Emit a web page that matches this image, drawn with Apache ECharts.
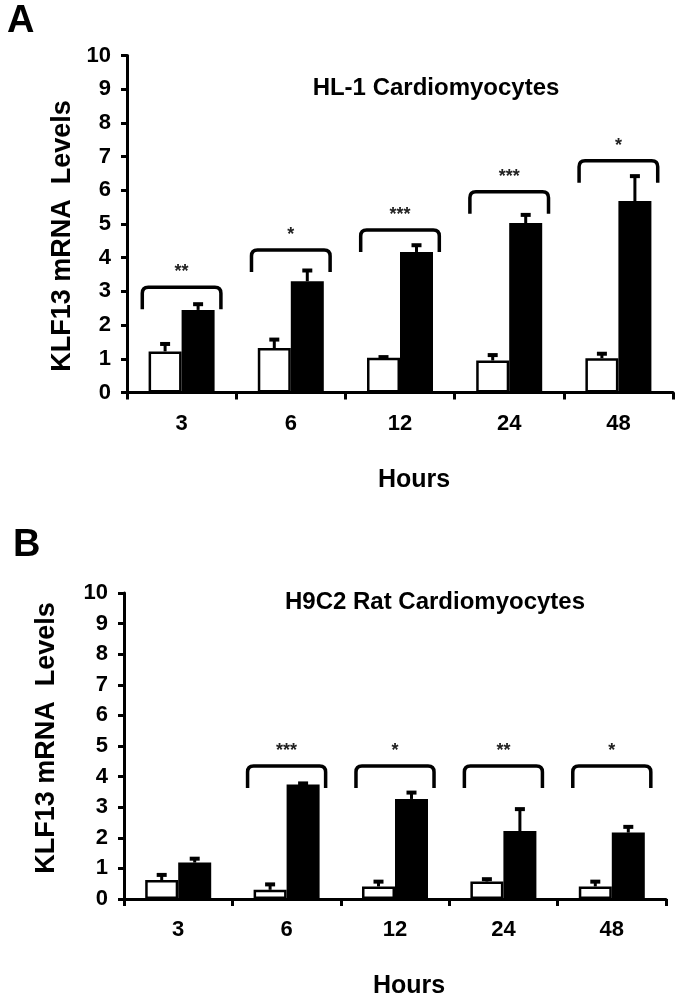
<!DOCTYPE html>
<html><head><meta charset="utf-8">
<script src="https://cdn.jsdelivr.net/npm/echarts@6/dist/echarts.min.js"></script>
<style>html,body{margin:0;padding:0;background:#fff}#c{width:680px;height:1000px}</style>
</head><body><div id="c"></div>
<script>
const hours = ['3', '6', '12', '24', '48'];
const yMin = 0, yMax = 10, yStep = 1;

const hl1Control = [1.22, 1.32, 1.03, 0.95, 1.02];
const hl1ControlErr = [0.25, 0.28, 0.05, 0.19, 0.16];
const hl1Treated = [2.45, 3.30, 4.17, 5.03, 5.68];
const hl1TreatedErr = [0.20, 0.35, 0.23, 0.27, 0.77];
const hl1Bracket = [3.12, 4.23, 4.82, 5.96, 6.88];
const hl1Stars = ['**', '*', '***', '***', '*'];

const h9c2Control = [0.62, 0.30, 0.41, 0.57, 0.41];
const h9c2ControlErr = [0.20, 0.21, 0.19, 0.11, 0.19];
const h9c2Treated = [1.19, 3.74, 3.27, 2.22, 2.17];
const h9c2TreatedErr = [0.16, 0.07, 0.24, 0.75, 0.22];
const h9c2Bracket = [null, 4.35, 4.35, 4.35, 4.35];
const h9c2Stars = ['', '***', '*', '**', '*'];

const FONT = "'Liberation Sans', Arial, sans-serif";
const BAR_W = 33;

function errSeries(grid, means, errs, side) {
  return {
    type: 'custom', xAxisIndex: grid, yAxisIndex: grid, z: 5,
    data: means.map((m, i) => [i, m, m + errs[i]]),
    renderItem: function (params, api) {
      const p0 = api.coord([api.value(0), api.value(1)]);
      const p1 = api.coord([api.value(0), api.value(2)]);
      const x = p0[0] + side * BAR_W / 2;
      return {
        type: 'group', children: [
          { type: 'line', shape: { x1: x, y1: p0[1], x2: x, y2: p1[1] }, style: { stroke: '#000', lineWidth: 3 } },
          { type: 'line', shape: { x1: x - 5, y1: p1[1] + 1, x2: x + 5, y2: p1[1] + 1 }, style: { stroke: '#000', lineWidth: 4 } }
        ]
      };
    }
  };
}

function bracketSeries(grid, tops, stars) {
  return {
    type: 'custom', xAxisIndex: grid, yAxisIndex: grid, z: 6,
    data: tops.map((t, i) => [i, t == null ? '-' : t]),
    renderItem: function (params, api) {
      const v = api.value(1);
      if (isNaN(v)) return null;
      const c = api.coord([api.value(0), v]);
      const bw = api.size([1, 0])[0];
      const half = bw * 0.36;
      const x1 = c[0] - half, x2 = c[0] + half, yt = c[1], yb = yt + 22, r = 6;
      const d = `M${x1},${yb} L${x1},${yt + r} Q${x1},${yt} ${x1 + r},${yt} L${x2 - r},${yt} Q${x2},${yt} ${x2},${yt + r} L${x2},${yb}`;
      return {
        type: 'group', children: [
          { type: 'path', shape: { pathData: d }, style: { stroke: '#000', lineWidth: 3.5, fill: null } },
          { type: 'text', style: { text: stars[params.dataIndex], x: c[0], y: yt - 6, align: 'center', verticalAlign: 'bottom', fill: '#222', font: 'bold 18px ' + FONT } }
        ]
      };
    }
  };
}

function xAx(grid) {
  return {
    type: 'category', gridIndex: grid, data: hours,
    axisLine: { lineStyle: { color: '#000', width: 3 } },
    axisTick: { show: true, length: 7, lineStyle: { color: '#000', width: 3 } },
    axisLabel: { color: '#000', fontSize: 22, fontWeight: 'bold', fontFamily: FONT, margin: 20 },
    name: 'Hours', nameLocation: 'middle', nameGap: 75,
    nameTextStyle: { color: '#000', fontSize: 25, fontWeight: 'bold', fontFamily: FONT, padding: [0, 0, 0, 28] }
  };
}
function yAx(grid, gap, shiftDown) {
  return {
    type: 'value', gridIndex: grid, min: yMin, max: yMax, interval: yStep,
    axisLine: { show: true, lineStyle: { color: '#000', width: 3 } },
    axisTick: { show: true, length: 6, lineStyle: { color: '#000', width: 3 } },
    splitLine: { show: false },
    axisLabel: { color: '#000', fontSize: 22, fontWeight: 'bold', fontFamily: FONT, margin: 16 },
    name: 'KLF13 mRNA  Levels', nameLocation: 'middle', nameGap: gap, nameRotate: 90,
    nameTextStyle: {
      color: '#000', fontSize: 27, fontWeight: 'bold', fontFamily: FONT,
      padding: shiftDown >= 0 ? [0, shiftDown * 2, 0, 0] : [0, 0, 0, -shiftDown * 2]
    }
  };
}
function bars(grid, vals, white) {
  return {
    type: 'bar', xAxisIndex: grid, yAxisIndex: grid, data: vals, barWidth: BAR_W, barGap: '0%',
    itemStyle: white ? { color: '#fff', borderColor: '#000', borderWidth: 2.5 } : { color: '#000' },
    z: 3
  };
}

const chart = echarts.init(document.getElementById('c'), null, { renderer: 'canvas' });
chart.setOption({
  backgroundColor: '#fff',
  animation: false,
  title: [
    { text: 'A', left: 2, top: -2, textStyle: { fontSize: 38, fontWeight: 'bold', color: '#000', fontFamily: FONT } },
    { text: 'B', left: 8, top: 522, textStyle: { fontSize: 38, fontWeight: 'bold', color: '#000', fontFamily: FONT } },
    { text: 'HL-1 Cardiomyocytes', left: 431, top: 71, textAlign: 'center', textStyle: { fontSize: 24, fontWeight: 'bold', color: '#000', fontFamily: FONT } },
    { text: 'H9C2 Rat Cardiomyocytes', left: 430, top: 585, textAlign: 'center', textStyle: { fontSize: 24, fontWeight: 'bold', color: '#000', fontFamily: FONT } }
  ],
  grid: [
    { left: 127, top: 55.5, width: 546, height: 337 },
    { left: 124, top: 593, width: 542, height: 308 }
  ],
  xAxis: [xAx(0), xAx(1)],
  yAxis: [yAx(0, 51, 12), yAx(1, 64, -8)],
  series: [
    bars(0, hl1Control, true), bars(0, hl1Treated, false),
    errSeries(0, hl1Control, hl1ControlErr, -1), errSeries(0, hl1Treated, hl1TreatedErr, 1),
    bracketSeries(0, hl1Bracket, hl1Stars),
    bars(1, h9c2Control, true), bars(1, h9c2Treated, false),
    errSeries(1, h9c2Control, h9c2ControlErr, -1), errSeries(1, h9c2Treated, h9c2TreatedErr, 1),
    bracketSeries(1, h9c2Bracket, h9c2Stars)
  ]
});
</script>
</body></html>
